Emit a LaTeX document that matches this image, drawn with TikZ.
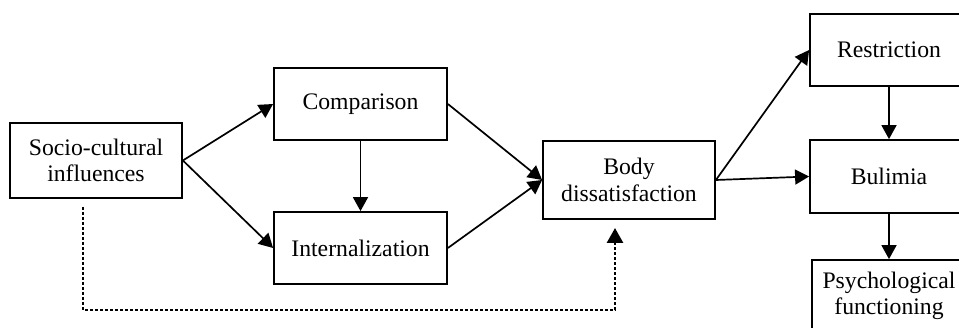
\documentclass[tikz,border=0pt]{standalone}
\usepackage{fontspec}
\setmainfont{Liberation Serif}
\usetikzlibrary{arrows.meta}
\begin{document}
\begin{tikzpicture}[x=1pt,y=-1pt,
  box/.style={draw=black, line width=1.8pt, rectangle, inner sep=0pt, align=center,
    font=\fontsize{23.7}{26.5}\selectfont},
  arr/.style={line width=1.7pt, -{Triangle[length=14pt,width=15pt]}},
  dotarr/.style={line width=2.8pt, dash pattern=on 2.6pt off 2.4pt, -{Triangle[length=15pt,width=16pt]}}
]
\useasboundingbox (0,0) rectangle (959,328);
\clip (0,0) rectangle (959,328);
\node[box, minimum width=172pt, minimum height=75pt] (socio) at (96,160.5) {Socio-cultural\\influences};
\node[box, minimum width=173pt, minimum height=72pt] (comp) at (360.5,104) {Comparison};
\node[box, minimum width=173pt, minimum height=72pt] (intern) at (360.5,248) {Internalization};
\node[box, minimum width=172pt, minimum height=78pt] (body) at (629,180) {Body\\dissatisfaction};
\node[box, minimum width=158pt, minimum height=72pt] (restr) at (889,50) {Restriction};
\node[box, minimum width=158pt, minimum height=73pt] (bul) at (889,176.5) {Bulimia};
\node[box, minimum width=154pt, minimum height=72pt] (psych) at (889,296) {Psychological\\functioning};
\draw[arr] (socio.east) -- (comp.west);
\draw[arr] (socio.east) -- (intern.west);
\draw[arr] (comp.south) -- (intern.north);
\draw[arr] (comp.east) -- (body.west);
\draw[arr] (intern.east) -- (body.west);
\draw[arr] (body.east) -- (restr.west);
\draw[arr] (body.east) -- (bul.west);
\draw[arr] (restr.south) -- (bul.north);
\draw[arr] (bul.south) -- (bul.south |- psych.north);
\coordinate (ds) at (83,207);
\coordinate (dl) at (83,310);
\coordinate (dr) at (615,310);
\coordinate (de) at (615,228);
\draw[dotarr] (ds) -- (dl) -- (dr) -- (de);
\end{tikzpicture}
\end{document}
